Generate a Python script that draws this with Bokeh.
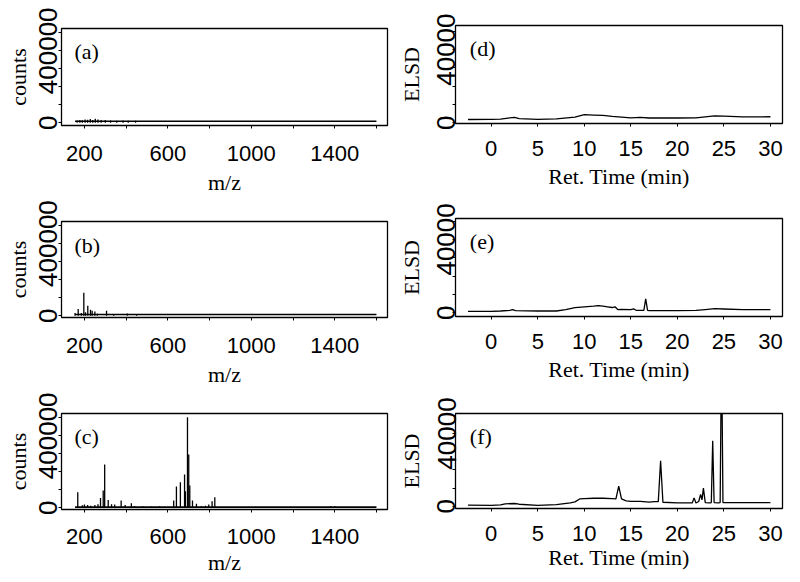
from bokeh.plotting import figure
from bokeh.layouts import row, column
from bokeh.models import FixedTicker, Range1d, Label
from bokeh.embed import file_html
from bokeh.resources import INLINE

# ---------------- data ----------------
# Mass spectra (m/z, counts)
ms_a_mz = [165, 178, 190, 203, 215, 228, 240, 252, 265, 280, 300, 325, 355, 385, 410, 445]
ms_a_ct = [13000, 16000, 14000, 19000, 17000, 21000, 16000, 22000, 18000, 16000, 15000, 13000, 12000, 13000, 12000, 11000]

ms_b_mz = [155, 170, 185, 197, 205, 216, 229, 237, 250, 262, 306, 340, 405, 450]
ms_b_ct = [15000, 37000, 15000, 128000, 20000, 55000, 33000, 28000, 24000, 12000, 28000, 10000, 13000, 10000]

ms_c_mz = [168, 190, 200, 215, 230, 250, 265, 277, 290, 297, 314, 330, 345, 376, 395, 425, 440, 480, 520, 560,
           628, 641, 660, 680, 684, 694, 700, 705, 718, 737, 760, 780, 796, 812, 825, 1380, 1400]
ms_c_ct = [87000, 14000, 18000, 16000, 12000, 15000, 20000, 55000, 96000, 240000, 44000, 20000, 18000, 40000, 15000, 26000, 10000, 8000, 7000, 8000,
           40000, 118000, 142000, 185000, 92000, 503000, 296000, 124000, 40000, 22000, 8000, 12000, 18000, 36000, 58000, 9000, 8000]

ms_base_mz = [155, 1600]
ms_base_a = [9000, 9000]
ms_base_b = [7000, 7000]
ms_base_c = [4000, 4000]

mz_ticks = [200, 400, 600, 800, 1000, 1200, 1400, 1600]
mz_labels = {200: "200", 400: "", 600: "600", 800: "", 1000: "1000", 1200: "", 1400: "1400", 1600: ""}
ct_ticks = [0, 100000, 200000, 300000, 400000, 500000]
ct_labels = {0: "0", 100000: "", 200000: "", 300000: "", 400000: "400000", 500000: ""}

# Chromatograms (retention time in min, ELSD)
t_d = [-2.5, 0, 1, 2, 2.5, 3, 5, 7, 9, 10, 11, 12, 13, 15, 16, 17, 20, 22, 24, 25, 27, 30]
y_d = [1800, 1900, 2000, 2700, 2900, 2300, 1900, 2100, 3100, 4400, 4200, 4000, 3500, 2700, 3000, 2600, 2600, 2700, 3800, 3600, 3200, 3300]

t_e = [-2.5, 0, 1, 2, 2.3, 2.6, 5, 7, 8, 9, 10, 11, 11.5, 12, 12.5, 13, 13.3, 13.6, 14, 15, 15.3, 15.6,
       16.4, 16.6, 16.8, 17, 20, 22, 23, 24, 25, 27, 30]
y_e = [800, 800, 1000, 1300, 1700, 1200, 1000, 1000, 1700, 2800, 3200, 3600, 3900, 3600, 3300, 2900, 3300, 1800, 1900, 1700, 2200, 1300,
       1300, 7600, 1300, 1200, 1200, 1300, 1800, 2300, 2100, 1700, 1700]

t_f = [-2.5, 0, 1, 1.5, 2.5, 3, 5, 7, 8.5, 9, 9.5, 10, 11, 12, 13, 13.4, 13.7, 14.0, 14.5, 15, 16, 17, 17.5,
       17.95, 18.2, 18.45, 20, 21.6, 21.8, 22.0, 22.3, 22.5, 22.65, 22.8, 23.0, 23.5, 23.65, 23.8, 23.95, 24.4,
       24.6, 24.75, 24.9, 26, 30]
y_f = [600, 500, 700, 1300, 1500, 1100, 500, 900, 1800, 2400, 4000, 4200, 4400, 4400, 4200, 4000, 11000, 4000, 3000, 2700, 2700, 2200, 2500,
       2500, 25000, 2200, 1800, 1800, 4600, 1800, 2600, 6500, 3500, 10000, 2000, 1800, 2000, 36000, 2000, 1800,
       2000, 90000, 2000, 2000, 2000]

rt_ticks = [0, 5, 10, 15, 20, 25, 30]
el_ticks = [0, 10000, 20000, 30000, 40000, 50000]
el_labels = {0: "0", 10000: "", 20000: "", 30000: "", 40000: "40000", 50000: ""}

SERIF = "Liberation Serif"
SANS = "Liberation Sans"


def make_fig(width, height, xr, yr, bl, br, bt, bb, xtitle, ytitle,
             xticks, xlabels, yticks, ylabels, xls, xts, yls, yts):
    p = figure(width=width, height=height, x_range=Range1d(*xr), y_range=Range1d(*yr),
               output_backend="svg", toolbar_location=None,
               min_border_left=bl, min_border_right=br, min_border_top=bt, min_border_bottom=bb)
    p.grid.visible = False
    p.outline_line_color = "black"
    p.outline_line_width = 1.3
    p.outline_line_alpha = 1
    p.background_fill_color = "white"
    p.border_fill_color = "white"
    for ax in (p.xaxis[0], p.yaxis[0]):
        ax.axis_line_color = None
        ax.major_tick_out = 3
        ax.major_tick_in = 0
        ax.major_tick_line_color = "black"
        ax.major_tick_line_width = 1
        ax.minor_tick_line_color = None
        ax.major_label_text_font = SANS
        ax.major_label_text_color = "black"
        ax.axis_label_text_font = SERIF
        ax.axis_label_text_font_style = "normal"
        ax.axis_label_text_font_size = "22px"
        ax.axis_label_text_color = "black"
    p.xaxis.axis_label = xtitle
    p.yaxis.axis_label = ytitle
    p.xaxis.ticker = FixedTicker(ticks=xticks)
    p.xaxis.major_label_overrides = xlabels
    p.yaxis.ticker = FixedTicker(ticks=yticks)
    p.yaxis.major_label_overrides = ylabels
    p.xaxis.major_label_text_font_size = "22px"
    p.yaxis.major_label_text_font_size = "26px"
    p.xaxis.major_label_standoff = xls
    p.xaxis.axis_label_standoff = xts
    p.yaxis.major_label_orientation = "vertical"
    p.yaxis.major_label_standoff = yls
    p.yaxis.axis_label_standoff = yts
    return p


def letter(p, x, y, txt):
    p.add_layout(Label(x=x, y=y, text=txt, text_font=SERIF, text_font_size="22px",
                       text_baseline="top", text_align="left", text_color="black"))


MZ_R = (90, 1653)
RT_R = (-3.84, 31.3)

rt_lab = {k: str(k) for k in rt_ticks}

# left column (figure x 0..393)
pa = make_fig(393, 200, MZ_R, (-15000, 524000), 61, 6, 28, 75, "m/z", "counts",
              mz_ticks, mz_labels, ct_ticks, ct_labels, 17, 6, 1, 6)
pb = make_fig(393, 192, MZ_R, (-9400, 522000), 61, 6, 21, 75, "m/z", "counts",
              mz_ticks, mz_labels, ct_ticks, ct_labels, 17, 6, 1, 6)
pc = make_fig(393, 188, MZ_R, (-9400, 524000), 61, 6, 21, 71, "m/z", "counts",
              mz_ticks, mz_labels, ct_ticks, ct_labels, 16, 3, 1, 6)

for p, mz, ct, base, lt, ly in ((pa, ms_a_mz, ms_a_ct, ms_base_a, "(a)", 463000),
                                (pb, ms_b_mz, ms_b_ct, ms_base_b, "(b)", 457000),
                                (pc, ms_c_mz, ms_c_ct, ms_base_c, "(c)", 467000)):
    p.segment(x0=mz, y0=[0] * len(mz), x1=mz, y1=ct, line_color="black", line_width=1.3)
    p.line(ms_base_mz, base, line_color="black", line_width=1.6)
    letter(p, 152, ly, lt)

# right column (figure x 393..798)
pd_ = make_fig(405, 200, RT_R, (-400, 53200), 62, 16, 25, 77, "Ret. Time (min)", "ELSD",
               rt_ticks, rt_lab, el_ticks, el_labels, 14, 5, -3, 11)
pe = make_fig(405, 192, RT_R, (-2000, 51400), 62, 16, 18, 76, "Ret. Time (min)", "ELSD",
              rt_ticks, rt_lab, el_ticks, el_labels, 14, 5, -3, 11)
pf = make_fig(405, 188, RT_R, (-1250, 51000), 62, 16, 21, 72, "Ret. Time (min)", "ELSD",
              rt_ticks, rt_lab, el_ticks, el_labels, 14, 1, -3, 11)

for p, t, y, lt, ly in ((pd_, t_d, y_d, "(d)", 47300), (pe, t_e, y_e, "(e)", 45900), (pf, t_f, y_f, "(f)", 45500)):
    p.line(t, y, line_color="black", line_width=1.3)
    letter(p, -2.3, ly, lt)

layout = row(column(pa, pb, pc), column(pd_, pe, pf))

open("out.html", "w").write(file_html(layout, INLINE))
